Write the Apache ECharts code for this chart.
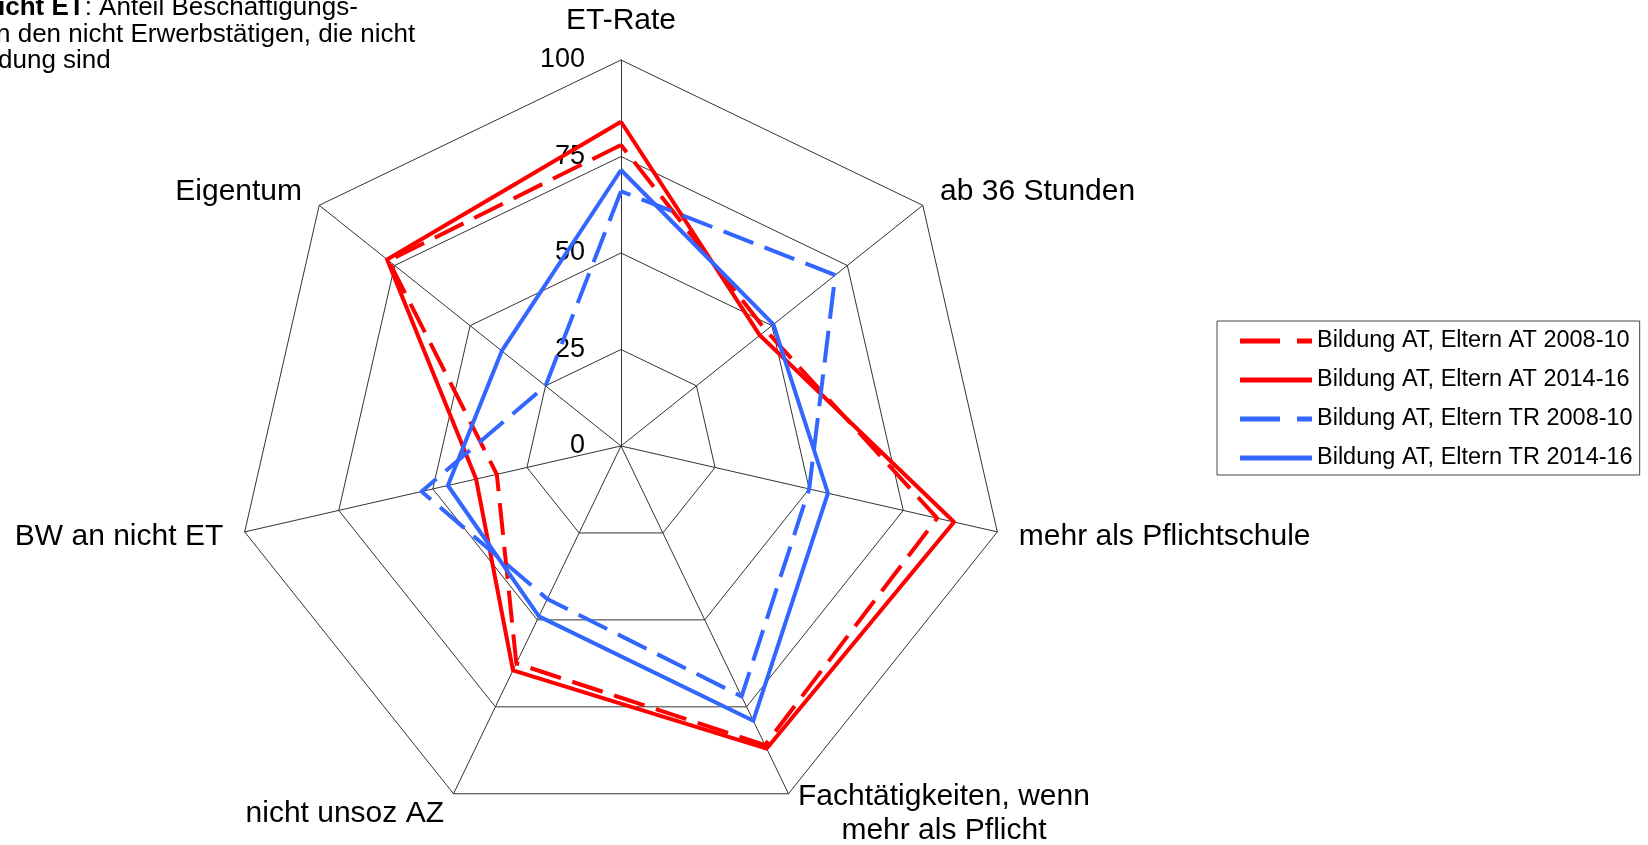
<!DOCTYPE html>
<html>
<head>
<meta charset="utf-8">
<script src="https://cdn.jsdelivr.net/npm/echarts@6/dist/echarts.min.js"></script>
<style>
html,body{margin:0;padding:0;background:#fff;}
#c{width:1648px;height:845px;}
</style>
</head>
<body>
<div id="c"></div>
<script>
// Axes in clockwise order, starting at the top
const categories = ['ET-Rate', 'ab 36 Stunden', 'mehr als Pflichtschule', 'Fachtätigkeiten, wenn\nmehr als Pflicht', 'nicht unsoz AZ', 'BW an nicht ET', 'Eigentum'];
const tickLabels = [0, 25, 50, 75, 100];
const seriesNames = ['Bildung AT, Eltern AT 2008-10', 'Bildung AT, Eltern AT 2014-16', 'Bildung AT, Eltern TR 2008-10', 'Bildung AT, Eltern TR 2014-16'];
const atAt0810 = [78, 48, 84, 86, 62.5, 33, 77];
const atAt1416 = [84, 46, 88.5, 87, 64.5, 38.5, 77.5];
const atTr0810 = [66, 71, 50, 72, 44, 53, 25];
const atTr1416 = [71.5, 50.5, 55, 79, 49, 46, 39.5];
const noteLines = ['icht ET', ': Anteil Beschäftigungs-', 'n den nicht Erwerbstätigen, die nicht', 'dung sind'];

const RED = '#ff0000', BLUE = '#3366ff';
const FONT = "'Liberation Sans', Arial, sans-serif";

// ECharts places radar indicators counter-clockwise; reorder to get clockwise order
const order = [0].concat(categories.slice(1).map((_, i) => categories.length - 1 - i));
const reorder = arr => order.map(i => arr[i]);
const maxTick = tickLabels[tickLabels.length - 1];
const minTick = tickLabels[0];

const indicator = reorder(categories).map((name, i) => {
  const o = { name: name, max: maxTick, min: minTick };
  if (i === 0) {
    o.axisLabel = { show: true, color: '#000', fontSize: 27, fontFamily: FONT, margin: 36 };
  }
  return o;
});

const styles = [
  { color: RED, type: [32, 12] },
  { color: RED, type: 'solid' },
  { color: BLUE, type: [32, 12] },
  { color: BLUE, type: 'solid' }
];
const values = [atAt0810, atAt1416, atTr0810, atTr1416];

const dashIcon = 'path://M0,0h40v5h-40z M57,0h15v5h-15z';
const solidIcon = 'path://M0,0h72v5h-72z';

const chart = echarts.init(document.getElementById('c'), null, { renderer: 'canvas' });
chart.setOption({
  animation: false,
  backgroundColor: '#fff',
  graphic: [
    { type: 'text', left: -2, top: -5, style: { text: '{b|' + noteLines[0] + '}{n|' + noteLines[1] + '}', rich: { b: { fontWeight: 'bold', fontSize: 26, fontFamily: FONT, fill: '#000' }, n: { fontSize: 26, fontFamily: FONT, fill: '#000' } } } },
    { type: 'text', left: -4, top: 22, style: { text: noteLines[2], fontSize: 26, fontFamily: FONT, fill: '#000' } },
    { type: 'text', left: -2, top: 48, style: { text: noteLines[3], fontSize: 26, fontFamily: FONT, fill: '#000' } }
  ],
  legend: {
    orient: 'vertical',
    left: 1217,
    top: 321,
    padding: [8, 7, 5, 23],
    itemGap: 15,
    itemWidth: 72,
    itemHeight: 5,
    borderColor: '#444',
    borderWidth: 1,
    textStyle: { color: '#000', fontSize: 23.5, fontFamily: FONT },
    data: seriesNames.map((n, i) => ({ name: n, icon: styles[i].type === 'solid' ? solidIcon : dashIcon, itemStyle: { color: styles[i].color } })),
    selectedMode: false
  },
  radar: {
    center: [621, 446],
    radius: 386,
    startAngle: 90,
    splitNumber: tickLabels.length - 1,
    shape: 'polygon',
    indicator: indicator,
    axisNameGap: 22,
    axisName: {
      color: '#000',
      fontSize: 30,
      fontFamily: FONT,
      formatter: function (name) {
        return name.split('\n').map(l => '{c|' + l + '}').join('\n');
      },
      rich: { c: { align: 'center', fontSize: 30, fontFamily: FONT, color: '#000', lineHeight: 34 } }
    },
    axisLabel: { show: false },
    axisTick: { show: false },
    splitArea: { show: false },
    splitLine: { lineStyle: { color: '#333', width: 1 } },
    axisLine: { lineStyle: { color: '#333', width: 1 } }
  },
  series: values.map((v, i) => ({
    type: 'radar',
    name: seriesNames[i],
    symbol: 'none',
    z: 2 + i,
    lineStyle: { color: styles[i].color, width: 4, type: styles[i].type },
    itemStyle: { color: styles[i].color },
    data: [{ name: seriesNames[i], value: reorder(v) }]
  }))
});
</script>
</body>
</html>
